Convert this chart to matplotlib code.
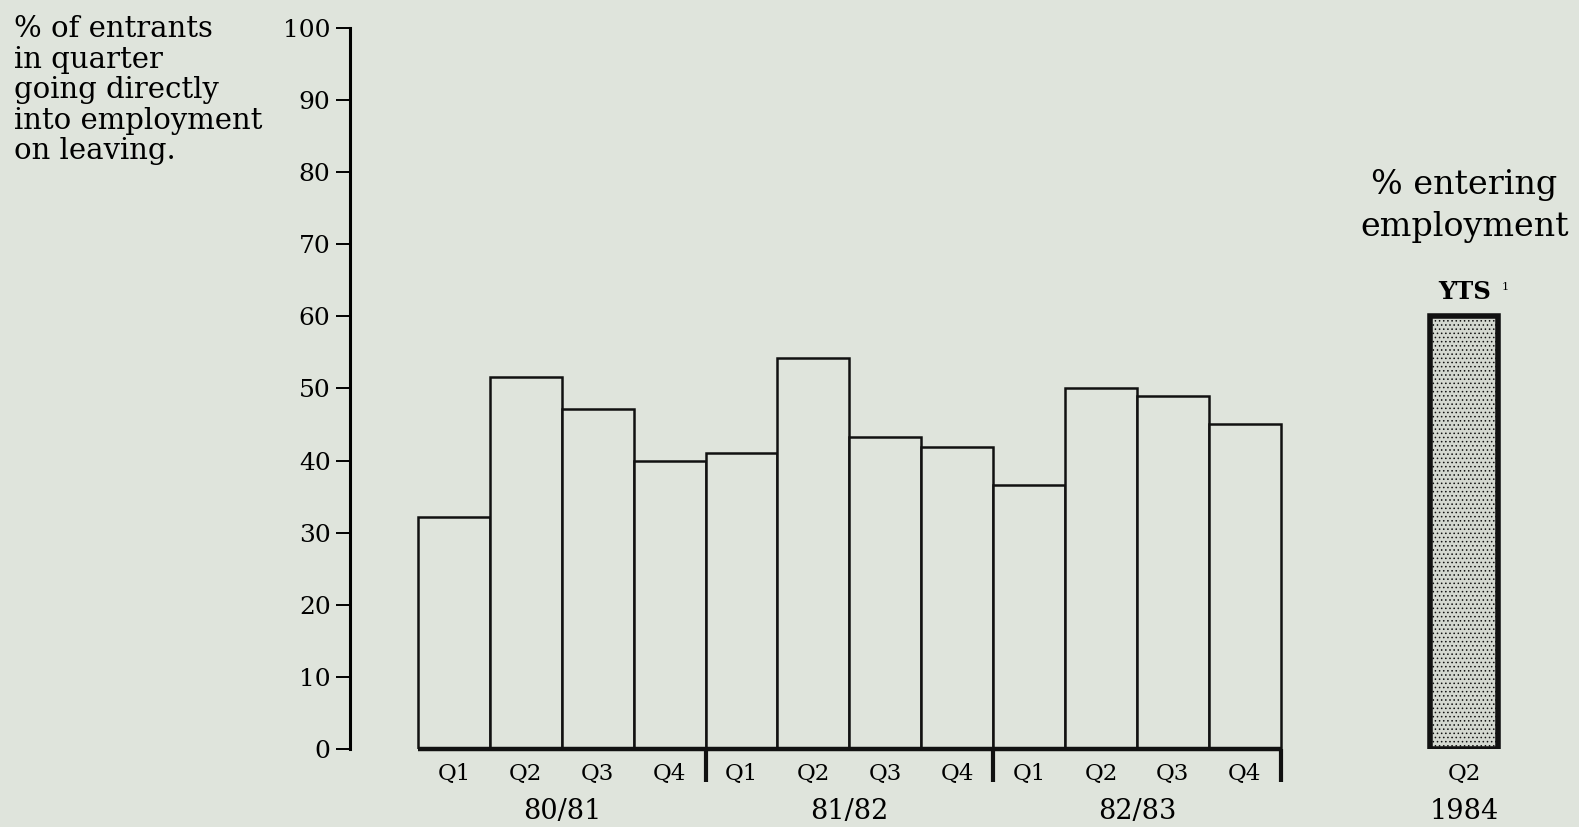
import numpy as np
import matplotlib.pyplot as plt

### DATA
years = ['80/81', '81/82', '82/83']
quarters = ['Q1', 'Q2', 'Q3', 'Q4']
pct_employed = [32.2, 51.6, 47.2, 40.0,
                41.0, 54.2, 43.3, 41.9,
                36.6, 50.1, 49.0, 45.0]
yts_pct = 60.0
yts_quarter = 'Q2'
yts_year = '1984'
y_ticks = [0, 10, 20, 30, 40, 50, 60, 70, 80, 90, 100]

bg = '#dfe4dc'
plt.rcParams['font.family'] = ['DejaVu Serif']

fig = plt.figure(figsize=(15.79, 8.27), dpi=100, facecolor=bg)
ax = fig.add_axes([0.2217, 0.0943, 0.7783, 0.872])
ax.set_facecolor(bg)

# quarterly bars, contiguous
x = np.arange(len(pct_employed))
ax.bar(x, pct_employed, width=1.0, align='edge', facecolor=bg,
       edgecolor='#111111', linewidth=1.8, zorder=2)

# baseline under quarterly bars and year separators
ax.plot([0, len(pct_employed)], [0, 0], color='#111111', lw=3.2,
        solid_capstyle='butt', zorder=3, clip_on=False)
for k in range(1, len(years) + 1):
    ax.plot([4 * k, 4 * k], [0, -4.6], color='#111111', lw=3.0,
            solid_capstyle='butt', zorder=3, clip_on=False)

# YTS bar
plt.rcParams['hatch.linewidth'] = 0.6
yts_x = 14.08
ax.bar([yts_x], [yts_pct], width=0.95, align='edge', facecolor='#d4d8d0',
       edgecolor='#111111', linewidth=4, hatch='....', zorder=2)

# labels under bars
for i, v in enumerate(pct_employed):
    ax.text(i + 0.5, -3.4, quarters[i % 4], ha='center', va='center',
            fontsize=16.5, clip_on=False)
for j, yr in enumerate(years):
    ax.text(4 * j + 2, -8.6, yr, ha='center', va='center',
            fontsize=19.5, clip_on=False)
ax.text(yts_x + 0.475, -3.4, yts_quarter, ha='center', va='center',
        fontsize=16.5, clip_on=False)
ax.text(yts_x + 0.475, -8.6, yts_year, ha='center', va='center',
        fontsize=19.5, clip_on=False)

ax.text(yts_x + 0.475, 63.4, 'YTS', ha='center', va='center',
        fontsize=17.5, fontweight='bold')
ax.text(yts_x + 1.0, 64.0, '1', ha='left', va='center', fontsize=8)
ax.text(yts_x + 0.475, 75.3, '% entering\nemployment', ha='center',
        va='center', fontsize=24, linespacing=1.42)

# y axis label block
fig.text(0.009, 0.982, '% of entrants\nin quarter\ngoing directly\ninto employment\non leaving.',
         ha='left', va='top', fontsize=21, linespacing=1.12)

ax.set_xlim(-0.946, 16.15)
ax.set_ylim(0, 100)
ax.set_yticks(y_ticks)
ax.set_xticks([])
ax.tick_params(axis='y', direction='out', length=10, width=1.4,
               labelsize=18, pad=4)
for s in ['top', 'right', 'bottom']:
    ax.spines[s].set_visible(False)
ax.spines['left'].set_linewidth(2.2)

fig.savefig('out.png', dpi=100, facecolor=bg)
